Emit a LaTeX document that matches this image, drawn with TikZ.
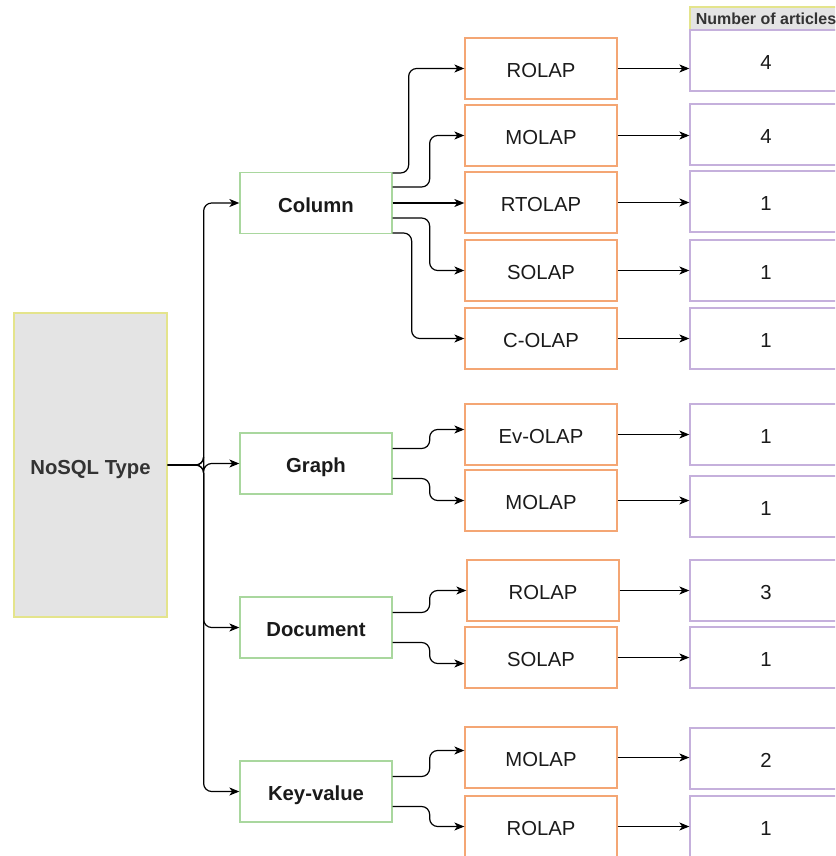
\documentclass[tikz,border=0pt]{standalone}
\usepackage{fontspec}
\setmainfont{Liberation Sans}
\usetikzlibrary{arrows.meta,calc}
\definecolor{grn}{HTML}{A9D79E}
\definecolor{org}{HTML}{F4A674}
\definecolor{pur}{HTML}{C5B0DC}
\definecolor{yel}{HTML}{E4E48C}
\definecolor{gfill}{HTML}{E4E4E4}
\definecolor{txt}{HTML}{1A1A1A}
\tikzset{
  base/.style={draw, line width=1.3pt, minimum width=152pt, minimum height=61pt, inner sep=0pt, text height=18pt, text depth=0pt, font=\fontsize{20.3}{22}\selectfont, text=txt},
  greenbox/.style={base, draw=grn, font=\fontsize{20.3}{22}\selectfont\bfseries},
  orangebox/.style={base, draw=org},
  purplebox/.style={base, draw=pur},
  rootbox/.style={base, draw=yel, fill=gfill, minimum width=153pt, minimum height=304pt, font=\fontsize{20.3}{22}\selectfont\bfseries, text=black!80},
  headbox/.style={base, draw=yel, fill=gfill, minimum height=23pt, text height=12.5pt, font=\fontsize{16}{18}\selectfont\bfseries, text=black!80},
  conn/.style={draw=black, line width=1.2pt, rounded corners=8pt, -{Stealth[length=10pt,width=8pt,inset=2.8pt]}},
}
\begin{document}
\begin{tikzpicture}[x=1pt,y=-1pt]
\useasboundingbox (0,0) rectangle (835,856);
\clip (0,0) rectangle (835,856);
% root
\node[rootbox] (ns) at (90.5,465) {NoSQL Type};
% green
\node[greenbox] (col) at (316,203) {Column};
\node[greenbox] (gra) at (316,463.5) {Graph};
\node[greenbox] (doc) at (316,627.5) {Document};
\node[greenbox] (kv)  at (316,791.5) {Key-value};
% orange
\node[orangebox] (r1) at (541,68.5) {ROLAP};
\node[orangebox] (r2) at (541,135.5) {MOLAP};
\node[orangebox] (r3) at (541,202.5) {RTOLAP};
\node[orangebox] (r4) at (541,270.5) {SOLAP};
\node[orangebox] (r5) at (541,338.5) {C-OLAP};
\node[orangebox] (r6) at (541,434.5) {Ev-OLAP};
\node[orangebox] (r7) at (541,500.5) {MOLAP};
\node[orangebox] (r8) at (543,590.5) {ROLAP};
\node[orangebox] (r9) at (541,657.5) {SOLAP};
\node[orangebox] (r10) at (541,757.5) {MOLAP};
\node[orangebox] (r11) at (541,826.5) {ROLAP};
% header + purple
\node[headbox] (hd) at (766,18.5) {Number of articles};
\node[purplebox] (p1) at (766,60.5) {4};
\node[purplebox] (p2) at (766,134.5) {4};
\node[purplebox] (p3) at (766,201.5) {1};
\node[purplebox] (p4) at (766,270.5) {1};
\node[purplebox] (p5) at (766,338.5) {1};
\node[purplebox] (p6) at (766,434.5) {1};
\node[purplebox] (p7) at (766,506.5) {1};
\node[purplebox] (p8) at (766,590.5) {3};
\node[purplebox] (p9) at (766,657.5) {1};
\node[purplebox] (p10) at (766,758.5) {2};
\node[purplebox] (p11) at (766,826.5) {1};
% root connectors
\draw[conn] (ns.east) -- ++(36,0) |- (col.west);
\draw[conn] (ns.east) -- ++(36,0) |- (gra.west);
\draw[conn] (ns.east) -- ++(36,0) |- (doc.west);
\draw[conn] (ns.east) -- ++(36,0) |- (kv.west);
% column
\draw[conn] ($(col.east)+(0,-30)$) -- ++(16,0) |- (r1.west);
\draw[conn] ($(col.east)+(0,-16)$) -- ++(37,0) |- (r2.west);
\draw[conn] (col.east) -- (col.east -| r3.west);
\draw[conn] ($(col.east)+(0,15)$) -- ++(37,0) |- (r4.west);
\draw[conn] ($(col.east)+(0,30)$) -- ++(19,0) |- (r5.west);
% graph
\draw[conn] ($(gra.east)+(0,-15)$) -- ++(37,0) |- ($(r6.west)+(0,-5)$);
\draw[conn] ($(gra.east)+(0,15)$) -- ++(37,0) |- (r7.west);
% document
\draw[conn] ($(doc.east)+(0,-15)$) -- ++(37,0) |- (r8.west);
\draw[conn] ($(doc.east)+(0,15)$) -- ++(37,0) |- ($(r9.west)+(0,6)$);
% key-value
\draw[conn] ($(kv.east)+(0,-15)$) -- ++(37,0) |- ($(r10.west)+(0,-7)$);
\draw[conn] ($(kv.east)+(0,15)$) -- ++(37,0) |- (r11.west);
% to counts
\foreach \i in {1,...,11}{
  \draw[conn] (r\i.east) -- (r\i.east -| p\i.west);
}
\end{tikzpicture}
\end{document}
